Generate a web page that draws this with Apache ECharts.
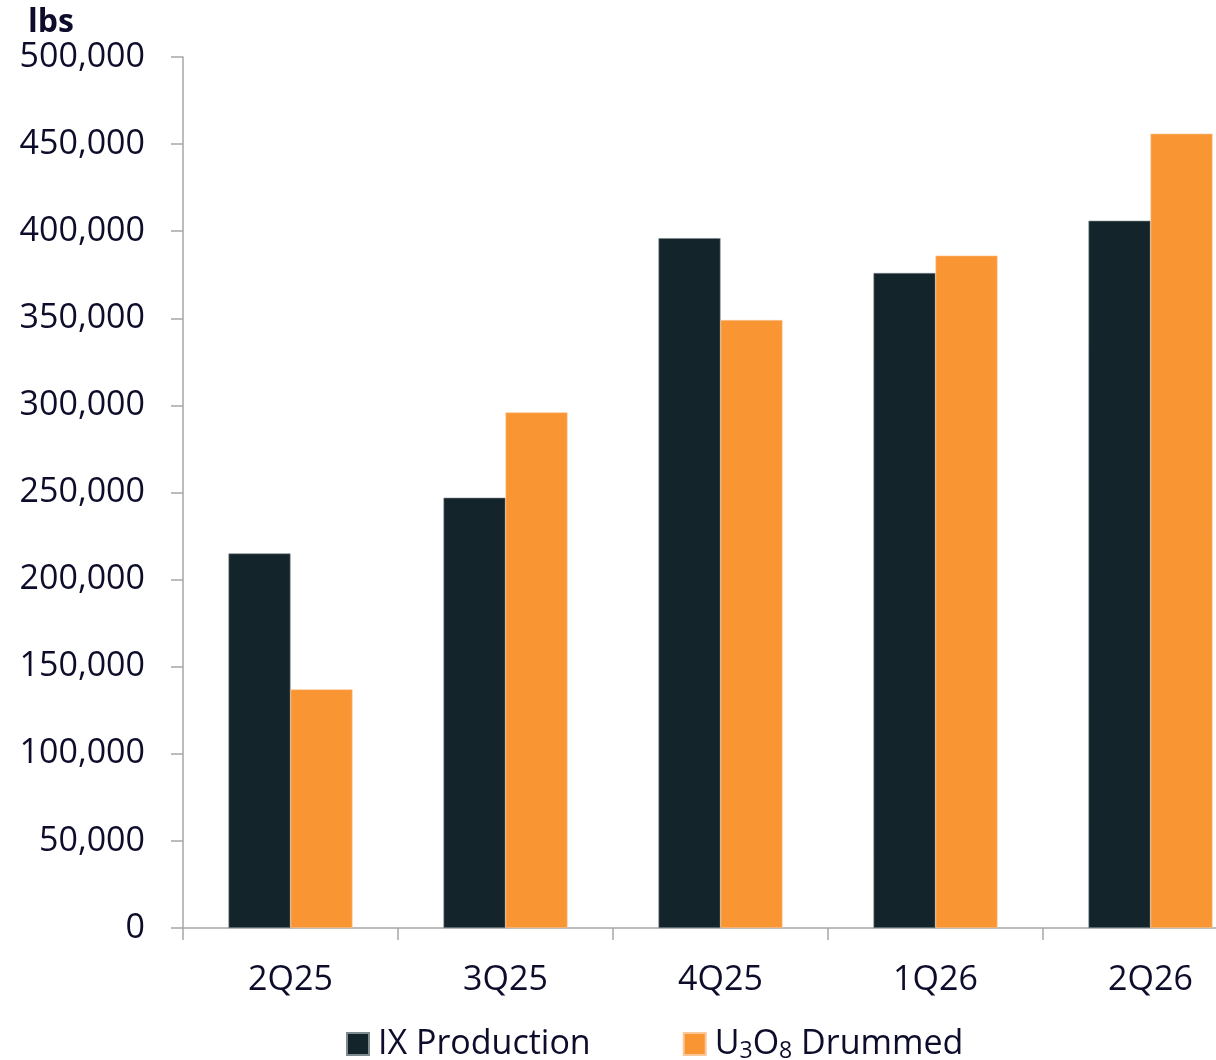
<!DOCTYPE html>
<html>
<head>
<meta charset="utf-8">
<script src="https://cdn.jsdelivr.net/npm/echarts@6/dist/echarts.min.js"></script>
<style>html,body{margin:0;padding:0;background:#fff}#c{width:1216px;height:1060px}</style>
</head>
<body>
<div id="c"></div>
<script>
const categories = ['2Q25', '3Q25', '4Q25', '1Q26', '2Q26'];
const ixProduction = [215000, 247000, 396000, 376000, 406000];
const u3o8Drummed = [137000, 296000, 349000, 386000, 456000];
const seriesNames = ['IX Production', 'U3O8 Drummed'];
const unitLabel = 'lbs';

const FONT = '"Open Sans", sans-serif';
const TXT = '#0d0d2b';
const FS = 34;
const chart = echarts.init(document.getElementById('c'), null, {renderer: 'canvas'});
chart.setOption({
  backgroundColor: '#ffffff',
  animation: false,
  title: {
    text: unitLabel, left: 23, top: 2,
    textStyle: {fontFamily: FONT, fontWeight: 'bold', fontSize: 32, color: TXT}
  },
  grid: {left: 183, right: -42, top: 57, bottom: 132, containLabel: false, outerBoundsMode: 'none'},
  legend: {
    left: 341, top: 1022, itemWidth: 22, itemHeight: 22, itemGap: 92,
    icon: 'rect',
    data: seriesNames,
    textStyle: {
      fontFamily: FONT, fontSize: FS, color: TXT, padding: [0, 0, 0, 4],
      rich: {
        n: {fontFamily: FONT, fontSize: FS, color: TXT},
        s: {fontFamily: FONT, fontSize: 23, color: TXT, padding: [14, 0, 0, 0]}
      }
    },
    formatter: function (name) {
      if (name === 'U3O8 Drummed') return '{n|U}{s|3}{n|O}{s|8}{n| Drummed}';
      return name;
    }
  },
  xAxis: {
    type: 'category', data: categories,
    axisLine: {lineStyle: {color: '#a6a6a6', width: 1.5}},
    axisTick: {show: true, length: 12, alignWithLabel: false, lineStyle: {color: '#a6a6a6', width: 1.5}},
    axisLabel: {fontFamily: FONT, fontSize: FS, color: TXT, margin: 35}
  },
  yAxis: {
    type: 'value', min: 0, max: 500000, interval: 50000,
    axisLine: {show: true, lineStyle: {color: '#a6a6a6', width: 1.5}},
    axisTick: {show: true, length: 12, lineStyle: {color: '#a6a6a6', width: 1.5}},
    splitLine: {show: false},
    axisLabel: {
      fontFamily: FONT, fontSize: FS, color: TXT, margin: 38,
      formatter: function (v) { return v.toLocaleString('en-US'); }
    }
  },
  series: [
    {name: seriesNames[0], type: 'bar', data: ixProduction, barWidth: 62, barGap: '0%',
     itemStyle: {color: '#13252a', borderColor: '#7d8a8e', borderWidth: 0.6}},
    {name: seriesNames[1], type: 'bar', data: u3o8Drummed, barWidth: 62, barGap: '0%',
     itemStyle: {color: '#fa9533', borderColor: '#fbc89a', borderWidth: 0.6}}
  ]
});
</script>
</body>
</html>
